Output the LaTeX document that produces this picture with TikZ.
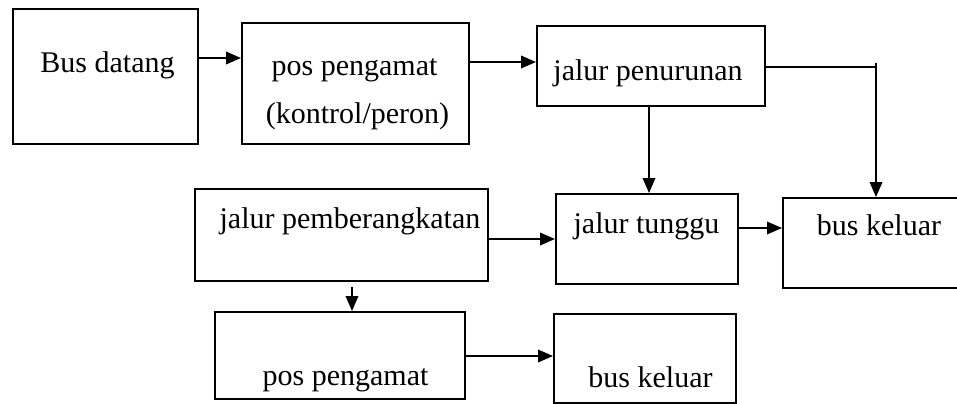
\documentclass[tikz,border=0pt]{standalone}
\usepackage{fontspec}
\setmainfont{Liberation Serif}
\usetikzlibrary{arrows.meta}
\begin{document}
\begin{tikzpicture}[x=0.5pt,y=-0.5pt,
  box/.style={draw,line width=1pt,rectangle,inner sep=0pt,anchor=north west},
  lbl/.style={inner sep=0pt,anchor=base,font=\fontsize{15pt}{18pt}\selectfont},
  arr/.style={line width=0.8pt,-{Triangle[length=7.5pt,width=6.3pt]}},
  ln/.style={line width=0.8pt}]
\useasboundingbox (0,0) rectangle (957,403);
% boxes: top-left corner, width and height in pixel units
\newcommand{\mkbox}[5]{\node[box,minimum width=#4*0.5pt,minimum height=#5*0.5pt] (#1) at (#2,#3) {};}
\mkbox{A}{12}{8}{185}{135}
\mkbox{B}{241}{22}{227}{121}
\mkbox{C}{536}{25}{228}{80}
\mkbox{D}{555}{193}{182}{90}
\mkbox{E}{782}{197}{240}{90}
\mkbox{F}{194}{188}{293}{92}
\mkbox{G}{214}{311}{250}{87}
\mkbox{H}{553}{313}{182}{89}
% labels
\node[lbl] (tA) at (107.5,72) {Bus datang};
\node[lbl] (tB1) at (354.5,75) {pos pengamat};
\node[lbl] (tB2) at (357.5,123) {(kontrol/peron)};
\node[lbl] (tC) at (648,80) {jalur penurunan};
\node[lbl] (tD) at (646.5,233) {jalur tunggu};
\node[lbl] (tE) at (879,235) {bus keluar};
\node[lbl] (tF) at (350,228) {jalur pemberangkatan};
\node[lbl] (tG) at (345.5,385) {pos pengamat};
\node[lbl] (tH) at (650.5,387) {bus keluar};
% connectors
\coordinate (ej) at (876,67);
\coordinate (fg) at (352,287);
\draw[arr] (A.east |- 0,58) -- (B.west |- 0,58);
\draw[arr] (B.east |- 0,62) -- (C.west |- 0,62);
\draw[ln] (C.east |- ej) -- (ej);
\draw[arr] (ej |- 0,63) -- (ej |- E.north);
\draw[arr] (C.south -| 649,0) -- (D.north -| 649,0);
\draw[arr] (D.east |- 0,228) -- (E.west |- 0,228);
\draw[arr] (F.east |- 0,239) -- (D.west |- 0,239);
\draw[arr] (fg) -- (fg |- G.north);
\draw[arr] (G.east |- 0,356) -- (H.west |- 0,356);
\end{tikzpicture}
\end{document}
